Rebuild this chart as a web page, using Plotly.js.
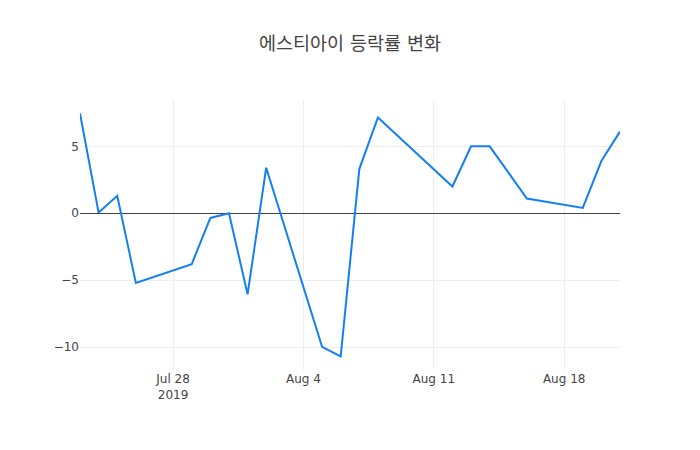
<!DOCTYPE html>
<html>
<head>
<meta charset="utf-8">
<script src="https://cdn.plot.ly/plotly-3.0.1.min.js"></script>
</head>
<body style="margin:0">
<div id="chart" style="width:700px;height:450px"></div>
<script>
var dates = ['2019-07-23', '2019-07-24', '2019-07-25', '2019-07-26', '2019-07-29',
  '2019-07-30', '2019-07-31', '2019-08-01', '2019-08-02', '2019-08-05',
  '2019-08-06', '2019-08-07', '2019-08-08', '2019-08-12', '2019-08-13',
  '2019-08-14', '2019-08-16', '2019-08-19', '2019-08-20', '2019-08-21']
var rates = [7.45, 0.05, 1.3, -5.2, -3.8,
  -0.35, 0.0, -6.05, 3.4, -9.98,
  -10.7, 3.3, 7.15, 2.0, 5.0,
  5.0, 1.1, 0.4, 3.9, 6.1]

var data = [{
  type: 'scatter',
  mode: 'lines',
  x: dates,
  y: rates,
  line: {color: '#147ff0', width: 2}
}]

var layout = {
  title: {text: '에스티아이 등락률 변화', font: {size: 18.5, color: '#444'}},
  font: {family: '"DejaVu Sans", "Noto Sans CJK KR", sans-serif'},
  xaxis: {type: 'date'},
  yaxis: {zeroline: true},
  showlegend: false,
  margin: {l: 80, r: 80, t: 100, b: 80}
}

Plotly.newPlot('chart', data, layout, {displayModeBar: false})
</script>
</body>
</html>
